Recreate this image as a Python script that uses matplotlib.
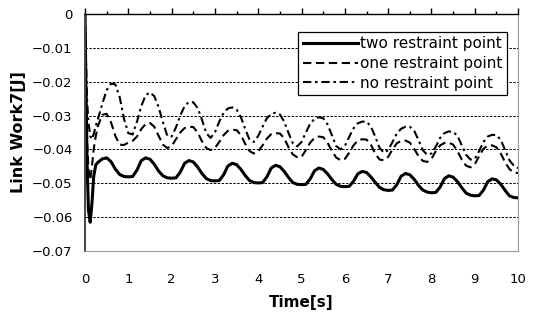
import numpy as np
import matplotlib
matplotlib.use('Agg')
import matplotlib.pyplot as plt
from matplotlib.ticker import MultipleLocator


######################################################################
# Data
######################################################################

# sampling times: dense start, then every 0.1 s
time_early = [0.0, 0.02, 0.05, 0.08, 0.12, 0.16, 0.2, 0.25]
time_main = np.round(np.arange(0.3, 10.001, 0.1), 1)
time = np.concatenate([time_early, time_main])

two_restraint = [
    0.0, -0.020, -0.045, -0.058, -0.0615, -0.056, -0.048, -0.0445,
    -0.0438, -0.0428, -0.0425, -0.0436, -0.0458, -0.0474, -0.0480,
    -0.0481, -0.0480, -0.0461, -0.0433, -0.0425, -0.0429, -0.0444, -0.0464, -0.0478, -0.0484,
    -0.0485, -0.0484, -0.0467, -0.0441, -0.0433, -0.0437, -0.0452, -0.0471, -0.0486, -0.0492,
    -0.0493, -0.0492, -0.0475, -0.0449, -0.0441, -0.0445, -0.0459, -0.0477, -0.0492, -0.0498,
    -0.0499, -0.0498, -0.0481, -0.0455, -0.0447, -0.0451, -0.0465, -0.0483, -0.0498, -0.0503,
    -0.0504, -0.0503, -0.0487, -0.0463, -0.0455, -0.0459, -0.0472, -0.0489, -0.0503, -0.0509,
    -0.0510, -0.0509, -0.0494, -0.0472, -0.0465, -0.0468, -0.0481, -0.0497, -0.0512, -0.0519,
    -0.0521, -0.0520, -0.0504, -0.0479, -0.0471, -0.0475, -0.0488, -0.0506, -0.0520, -0.0526,
    -0.0528, -0.0527, -0.0511, -0.0486, -0.0478, -0.0482, -0.0495, -0.0513, -0.0529, -0.0535,
    -0.0537, -0.0536, -0.0520, -0.0495, -0.0487, -0.0490, -0.0503, -0.0521, -0.0537, -0.0542,
    -0.0543,
]

one_restraint = [
    0.0, -0.020, -0.038, -0.046, -0.049, -0.045, -0.040, -0.036,
    -0.0330, -0.0298, -0.0295, -0.0320, -0.0360, -0.0386, -0.0387,
    -0.0380, -0.0375, -0.0362, -0.0340, -0.0325, -0.0322, -0.0333, -0.0360, -0.0386, -0.0396,
    -0.0390, -0.0370, -0.0350, -0.0337, -0.0333, -0.0334, -0.0350, -0.0376, -0.0396, -0.0402,
    -0.0396, -0.0378, -0.0358, -0.0345, -0.0342, -0.0343, -0.0358, -0.0384, -0.0405, -0.0412,
    -0.0406, -0.0388, -0.0368, -0.0355, -0.0352, -0.0353, -0.0367, -0.0394, -0.0415, -0.0423,
    -0.0422, -0.0402, -0.0380, -0.0366, -0.0362, -0.0364, -0.0380, -0.0405, -0.0424, -0.0432,
    -0.0428, -0.0410, -0.0388, -0.0374, -0.0370, -0.0371, -0.0386, -0.0412, -0.0430, -0.0432,
    -0.0422, -0.0400, -0.0382, -0.0375, -0.0374, -0.0380, -0.0398, -0.0420, -0.0434, -0.0437,
    -0.0428, -0.0405, -0.0388, -0.0381, -0.0380, -0.0386, -0.0405, -0.0430, -0.0448, -0.0453,
    -0.0444, -0.0420, -0.0398, -0.0389, -0.0388, -0.0394, -0.0412, -0.0438, -0.0458, -0.0468,
    -0.0470,
]

no_restraint = [
    0.0, -0.012, -0.026, -0.032, -0.036, -0.037, -0.0355, -0.033,
    -0.0310, -0.0265, -0.0225, -0.0206, -0.0208, -0.0245, -0.0310,
    -0.0352, -0.0356, -0.0318, -0.0272, -0.0240, -0.0232, -0.0243, -0.0275, -0.0320, -0.0360,
    -0.0362, -0.0335, -0.0300, -0.0272, -0.0260, -0.0261, -0.0278, -0.0312, -0.0352, -0.0366,
    -0.0350, -0.0318, -0.0292, -0.0279, -0.0276, -0.0282, -0.0305, -0.0340, -0.0372, -0.0378,
    -0.0360, -0.0333, -0.0308, -0.0295, -0.0292, -0.0297, -0.0318, -0.0352, -0.0382, -0.0391,
    -0.0378, -0.0350, -0.0324, -0.0310, -0.0305, -0.0308, -0.0326, -0.0358, -0.0390, -0.0400,
    -0.0390, -0.0363, -0.0338, -0.0323, -0.0318, -0.0318, -0.0332, -0.0362, -0.0395, -0.0410,
    -0.0402, -0.0378, -0.0353, -0.0339, -0.0333, -0.0333, -0.0345, -0.0372, -0.0402, -0.0416,
    -0.0412, -0.0392, -0.0366, -0.0352, -0.0347, -0.0348, -0.0360, -0.0388, -0.0416, -0.0430,
    -0.0428, -0.0405, -0.0378, -0.0362, -0.0357, -0.0358, -0.0372, -0.0402, -0.0432, -0.0448,
    -0.0455,
]

series_labels = ['two restraint point', 'one restraint point', 'no restraint point']

y_ticks = [-0.07, -0.06, -0.05, -0.04, -0.03, -0.02, -0.01, 0.0]
y_tick_labels = ['\u22120.07', '\u22120.06', '\u22120.05', '\u22120.04',
                 '\u22120.03', '\u22120.02', '\u22120.01', '0']
x_ticks = [0, 1, 2, 3, 4, 5, 6, 7, 8, 9, 10]


######################################################################
# Figure
######################################################################

plt.rcParams['font.family'] = ['DejaVu Sans']

fig = plt.figure(figsize=(5.38, 3.15), dpi=100)
ax = fig.add_axes([0.158, 0.203, 0.805, 0.753])

ax.plot(time, two_restraint, color='black', linewidth=2.2,
        label=series_labels[0], solid_joinstyle='round')
ax.plot(time, one_restraint, color='black', linewidth=1.5,
        linestyle=(0, (4, 2.2)), label=series_labels[1])
ax.plot(time, no_restraint, color='black', linewidth=1.5,
        linestyle=(0, (4, 1.8, 1.2, 1.8)), label=series_labels[2])

ax.set_xlim(0, 10)
ax.set_ylim(-0.07, 0)

ax.set_yticks(y_ticks)
ax.set_yticklabels(y_tick_labels)
ax.set_xticks(x_ticks)
ax.xaxis.set_minor_locator(MultipleLocator(0.5))

# x axis drawn at y = 0 (top), labels kept at the bottom
ax.tick_params(axis='x', which='both', top=True, bottom=False,
               labeltop=False, labelbottom=True, direction='out',
               labelsize=9.5, pad=12)
ax.tick_params(axis='x', which='major', length=4, width=1)
ax.tick_params(axis='x', which='minor', length=2.5, width=1)
ax.tick_params(axis='y', length=0, pad=9, labelsize=9.5)

for gy in y_ticks[1:-1]:
    ax.axhline(gy, color='black', linewidth=0.7,
               linestyle=(0, (2.5, 1.5)), zorder=0)

ax.spines['top'].set_color('black')
ax.spines['top'].set_linewidth(1.0)
ax.spines['left'].set_color('#444444')
ax.spines['left'].set_linewidth(1.4)
ax.spines['right'].set_color('#999999')
ax.spines['bottom'].set_color('#999999')

ax.set_xlabel('Time[s]', fontsize=11, fontweight='bold', labelpad=6)
ax.set_ylabel('Link Work7[J]', fontsize=11.5, fontweight='bold', labelpad=4)

leg = ax.legend(loc='upper right', bbox_to_anchor=(0.975, 0.924),
                fontsize=11, handlelength=3.6, handletextpad=0.15,
                labelspacing=0.3, borderpad=0.3, borderaxespad=0,
                fancybox=False, framealpha=1, edgecolor='black')
leg.get_frame().set_linewidth(0.9)

plt.savefig('out.png', dpi=100)
plt.close()
